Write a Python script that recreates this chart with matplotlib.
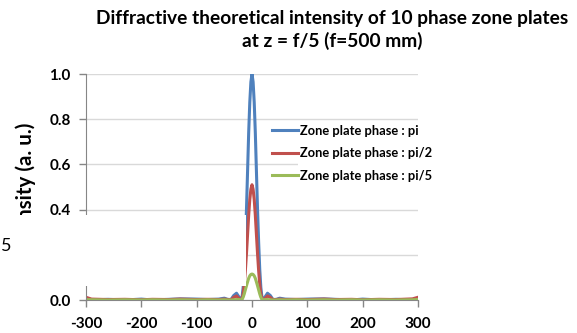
import matplotlib.pyplot as plt
from matplotlib.patches import Rectangle

# values
x_pos = [-300, -290, -260, -230, -200, -180, -150, -130, -100, -80, -60, -50, -44, -38, -33, -28, -24, -20,
         -18, -16, -14, -12, -10, -8, -6, -4, -2, 0, 2, 4, 6, 8, 10, 12, 14, 16, 18,
         20, 24, 28, 33, 38, 44, 50, 60, 80, 100, 130, 150, 180, 200, 230, 260, 290, 300]

phase_pi = [0.004, 0.0, 0.003, 0.0, 0.004, 0.0, 0.003, 0.005, 0.004, 0.002, 0.004, 0.008, 0.003, 0.002, 0.02, 0.03, 0.015, 0.0,
            0.012, 0.055, 0.135, 0.255, 0.40, 0.57, 0.74, 0.875, 0.965, 1.0, 0.965, 0.875, 0.74, 0.57, 0.40, 0.255, 0.135, 0.055, 0.012,
            0.0, 0.015, 0.03, 0.02, 0.002, 0.003, 0.008, 0.004, 0.002, 0.004, 0.005, 0.003, 0.0, 0.004, 0.0, 0.003, 0.0, 0.004]

phase_pi2 = [0.012, 0.004, 0.002, 0.003, 0.001, 0.003, 0.002, 0.004, 0.002, 0.003, 0.002, 0.004, 0.002, 0.001, 0.012, 0.018, 0.008, 0.0,
             0.006, 0.028, 0.069, 0.13, 0.205, 0.29, 0.375, 0.445, 0.49, 0.51, 0.49, 0.445, 0.375, 0.29, 0.205, 0.13, 0.069, 0.028, 0.006,
             0.0, 0.008, 0.018, 0.012, 0.001, 0.002, 0.004, 0.002, 0.003, 0.002, 0.004, 0.002, 0.003, 0.001, 0.003, 0.002, 0.005, 0.012]

phase_pi5 = [0.002, 0.001, 0.0, 0.001, 0.0, 0.001, 0.0, 0.001, 0.0, 0.001, 0.0, 0.001, 0.0, 0.0, 0.001, 0.002, 0.002, 0.0,
             0.003, 0.012, 0.027, 0.045, 0.063, 0.08, 0.096, 0.107, 0.113, 0.115, 0.113, 0.107, 0.096, 0.08, 0.063, 0.045, 0.027, 0.012, 0.003,
             0.0, 0.002, 0.002, 0.001, 0.0, 0.0, 0.001, 0.0, 0.001, 0.0, 0.001, 0.0, 0.001, 0.0, 0.001, 0.0, 0.001, 0.002]

labels = ["Zone plate phase : pi", "Zone plate phase : pi/2", "Zone plate phase : pi/5"]
colors = ["#4F81BD", "#C0504D", "#9BBB59"]
x_ticks = [-300, -200, -100, 0, 100, 200, 300]
y_ticks = [0.0, 0.2, 0.4, 0.6, 0.8, 1.0]

plt.rcParams['font.family'] = ['Lato', 'DejaVu Sans']
plt.rcParams['font.weight'] = 'bold'

W, H = 577, 333
fig = plt.figure(figsize=(W / 100, H / 100), dpi=100)
ax = fig.add_axes([86 / W, 1 - 300 / H, (418 - 86) / W, (300 - 74) / H])

for ys, lab, col in zip([phase_pi, phase_pi2, phase_pi5], labels, colors):
    ax.plot(x_pos, ys, color=col, lw=2.2, label=lab, solid_joinstyle='round')

ax.set_xlim(-300, 300)
ax.set_ylim(0, 1.0)
ax.set_xticks(x_ticks)
ax.set_yticks(y_ticks)
ax.set_xticklabels([str(v) for v in x_ticks], fontsize=11, fontweight='bold')
ax.set_yticklabels(["%.1f" % v for v in y_ticks], fontsize=11, fontweight='bold')
ax.tick_params(axis='both', color='#868686', length=5, width=1)
ax.tick_params(axis='y', pad=6)
ax.tick_params(axis='x', pad=7)
ax.grid(axis='y', color='#D9D9D9', lw=1)
ax.set_axisbelow(True)
for s in ['top', 'right']:
    ax.spines[s].set_visible(False)
for s in ['left', 'bottom']:
    ax.spines[s].set_color('#868686')

fig.text(332 / W, 1 - 30 / H, "Diffractive theoretical intensity of 10 phase zone plates\nat z = f/5 (f=500 mm)",
         ha='center', va='center', fontsize=13.8, fontweight='bold', linespacing=1.3)

fig.text(26 / W, 1 - 123 / H, "Intensity (a. u.)", rotation=90, ha='center', va='top',
         fontsize=14.8, fontweight='bold', zorder=3)

# white legend background
fig.patches.append(Rectangle((298 / W, 1 - 195 / H), 142 / W, 74 / H, transform=fig.transFigure,
                             facecolor='white', edgecolor='none', zorder=1))
fig.legend(loc='upper left', bbox_to_anchor=(272 / W, 1 - 125 / H), frameon=False,
           prop={'weight': 'bold', 'size': 9.3}, handlelength=2.0, handletextpad=0.2,
           labelspacing=0.8, borderpad=0, borderaxespad=0)

# the blank patch over the lower left part of the plot
fig.patches.append(Rectangle((0, 1 - 286 / H), 246 / W, 71 / H, transform=fig.transFigure,
                             facecolor='white', edgecolor='none', zorder=4))
fig.text(0.5 / W, 1 - 246 / H, "5", ha='left', va='center', fontsize=13, fontweight='normal', zorder=6)

fig.savefig("out.png", dpi=100)
